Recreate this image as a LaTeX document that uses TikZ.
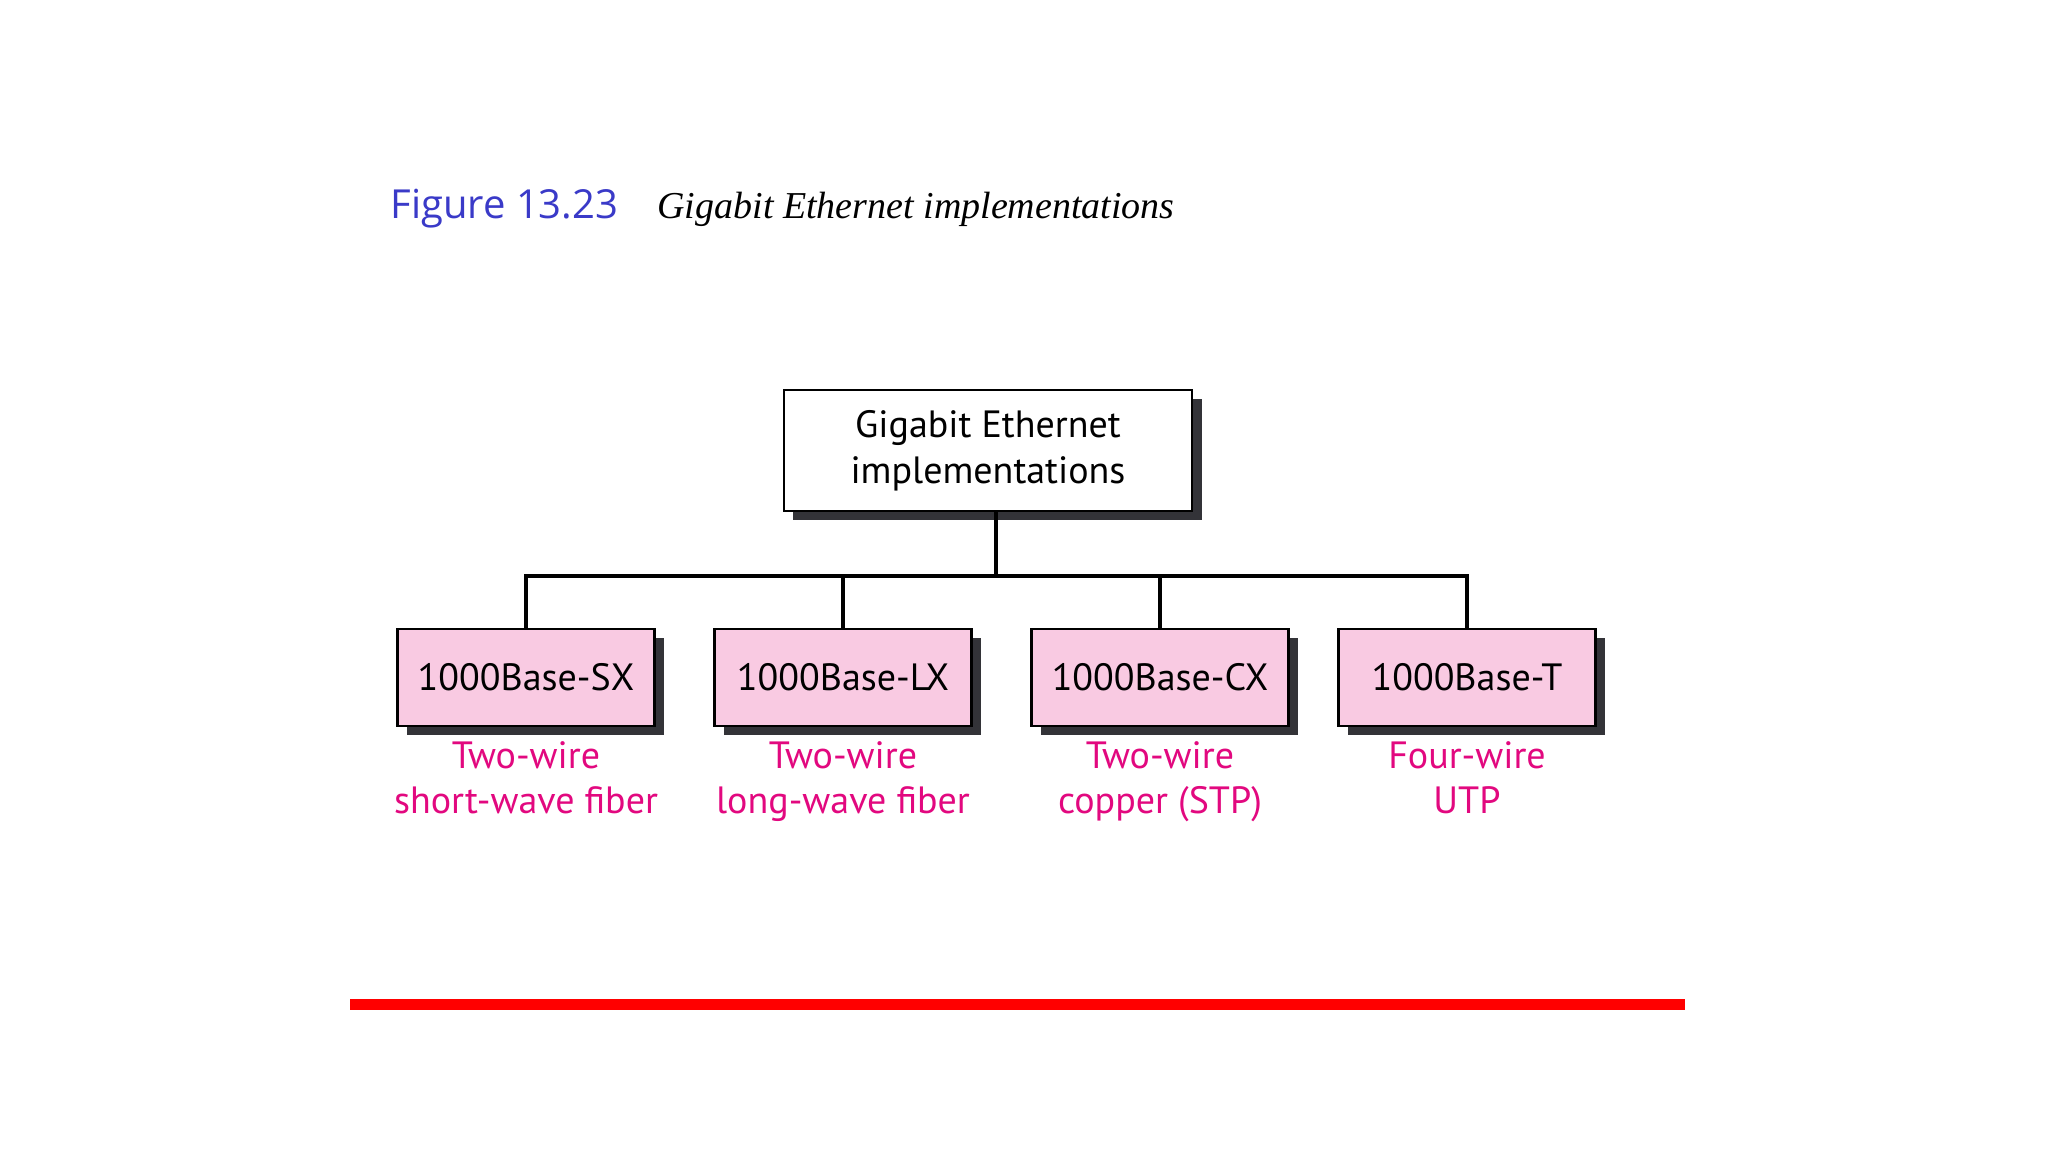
\documentclass[tikz,border=0pt]{standalone}
\usepackage{fontspec}
\setmainfont{PT Sans}
\newfontfamily\ttl{Open Sans}
\newfontfamily\tser{Liberation Serif}
\definecolor{pinkfill}{HTML}{F9CAE2}
\definecolor{mag}{HTML}{E2087F}
\definecolor{figblue}{HTML}{3A3AC8}
\definecolor{shad}{HTML}{333338}
\begin{document}
\begin{tikzpicture}[x=1pt,y=-1pt,
  box/.style={draw=black,line width=2.6pt,minimum width=257pt,minimum height=97pt,fill=pinkfill,font=\fontsize{38}{44}\selectfont,inner sep=0pt},
  shadow/.style={fill=shad},
  lbl/.style={text=mag,font=\fontsize{38}{45}\selectfont,align=center},
  conn/.style={line width=3.6pt}]
\useasboundingbox (0,0) rectangle (2048,1152);
\fill[white] (0,0) rectangle (2048,1152);
\node[anchor=base west,text=figblue,font=\ttl\fontsize{40}{48}\selectfont] (fig) at (387,218) {Figure 13.23};
\node[anchor=base west,font=\tser\itshape\fontsize{38}{46}\selectfont] (cap) at (654,218) {Gigabit Ethernet implementations};
% shadows
\fill[shad] (793,399) rectangle (1202,520);
\foreach \x in {526,843,1160,1467}{\fill[shad] (\x-128+9,638) rectangle (\x+129+9,735);}
\node[box,fill=white,minimum width=408pt,minimum height=121pt,align=center,font=\fontsize{38}{46}\selectfont] (top) at (988,450.5) {Gigabit Ethernet\\implementations};
\node[box] (sx) at (526,677.5) {1000Base-SX};
\node[box] (lx) at (843,677.5) {1000Base-LX};
\node[box] (cx) at (1160,677.5) {1000Base-CX};
\node[box] (t) at (1467,677.5) {1000Base-T};
\coordinate (bar) at (996,576);
\draw[conn] (996,511) -- (bar);
\draw[conn] (sx.north) |- (bar) -| (t.north);
\draw[conn] (lx.north) -- (lx.north |- bar);
\draw[conn] (cx.north) -- (cx.north |- bar);
\node[lbl,anchor=north] (lsx) at (526,738) {Two-wire\\short-wave fiber};
\node[lbl,anchor=north] (llx) at (843,738) {Two-wire\\long-wave fiber};
\node[lbl,anchor=north] (lcx) at (1160,738) {Two-wire\\copper (STP)};
\node[lbl,anchor=north] (lt) at (1467,738) {Four-wire\\UTP};
\fill[red] (350,999) rectangle (1685,1010);
\end{tikzpicture}
\end{document}
